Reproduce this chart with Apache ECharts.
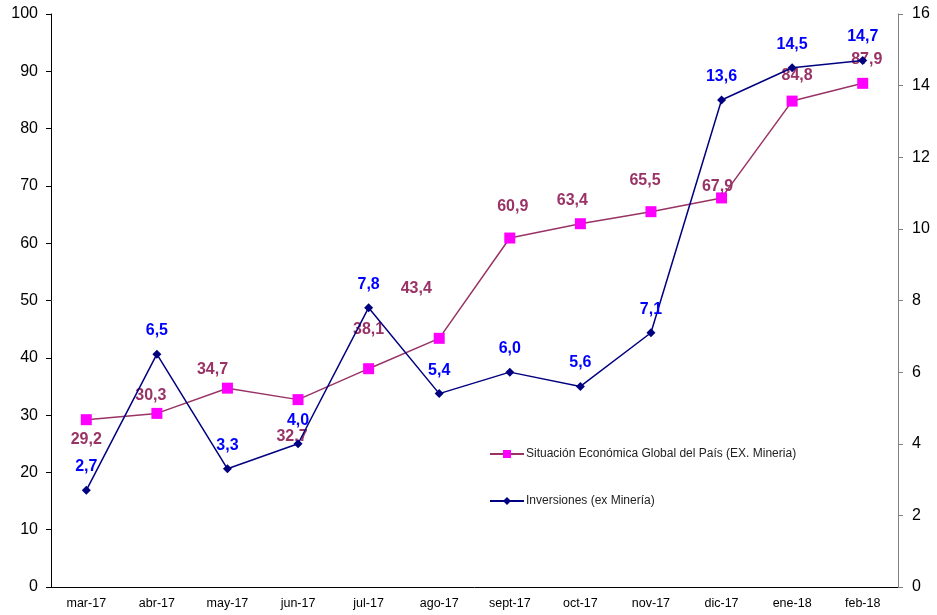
<!DOCTYPE html>
<html>
<head>
<meta charset="utf-8">
<script src="https://cdn.jsdelivr.net/npm/echarts@6/dist/echarts.min.js"></script>
<style>
  html, body { margin: 0; padding: 0; background: #fff; }
  #chart { width: 937px; height: 615px; }
</style>
</head>
<body>
<div id="chart"></div>
<script>
// meses
var meses = ['mar-17', 'abr-17', 'may-17', 'jun-17', 'jul-17', 'ago-17', 'sept-17', 'oct-17', 'nov-17', 'dic-17', 'ene-18', 'feb-18'];
// eje izquierdo
var situacionGlobal = [29.2, 30.3, 34.7, 32.7, 38.1, 43.4, 60.9, 63.4, 65.5, 67.9, 84.8, 87.9];
// eje derecho
var inversiones = [2.7, 6.5, 3.3, 4.0, 7.8, 5.4, 6.0, 5.6, 7.1, 13.6, 14.5, 14.7];

// donde cae cada etiqueta de la serie granate (como en el excel original)
var offsetsGlobal = [[0, 20], [-6, -18], [-15, -19], [-6, 37], [0, -39], [-23, -50],
                     [3, -31], [-8, -23], [-6, -31], [-4, -11], [5, -26], [4, -24]];

var fmt = function (v) { return v.toFixed(1).replace('.', ','); };

var datosGlobal = [];
for (var i = 0; i < situacionGlobal.length; i++) {
	datosGlobal.push({
		value: situacionGlobal[i],
		label: { offset: offsetsGlobal[i] }
	});
}

var chart = echarts.init(document.getElementById('chart'));
var option = {
	animation: false,
	textStyle: { fontFamily: 'Liberation Sans, Arial, sans-serif' },
	grid: { left: 51, right: 39, top: 14, bottom: 28 },
	legend: {
		orient: 'vertical',
		left: 484,
		top: 443,
		itemGap: 35,
		itemWidth: 34,
		itemHeight: 10,
		textStyle: { fontSize: 12, color: '#222', padding: [0, 0, 0, -3] },
		data: ['Situación Económica Global del País (EX. Mineria)', 'Inversiones (ex Minería)']
	},
	xAxis: {
		type: 'category',
		data: meses,
		boundaryGap: true,
		axisLine: { lineStyle: { color: '#000', width: 1 } },
		axisTick: { length: 4, lineStyle: { color: '#000' } },
		axisLabel: { color: '#000', fontSize: 12.5, margin: 10 }
	},
	yAxis: [
		{
			type: 'value',
			min: 0, max: 100, interval: 10,
			axisLine: { show: true, lineStyle: { color: '#000' } },
			axisTick: { show: true, length: 5, lineStyle: { color: '#000' } },
			axisLabel: { color: '#000', fontSize: 16, margin: 13 },
			splitLine: { show: false }
		},
		{
			type: 'value',
			min: 0, max: 16, interval: 2,
			position: 'right',
			axisLine: { show: true, lineStyle: { color: '#808080' } },
			axisTick: { show: true, length: 5, lineStyle: { color: '#808080' } },
			axisLabel: { color: '#000', fontSize: 16, margin: 14 },
			splitLine: { show: false }
		}
	],
	series: [
		{
			name: 'Situación Económica Global del País (EX. Mineria)',
			type: 'line',
			yAxisIndex: 0,
			data: datosGlobal,
			symbol: 'rect',
			symbolSize: 11,
			z: 2,
			lineStyle: { color: '#993366', width: 1.5 },
			itemStyle: { color: '#FF00FF', borderWidth: 0 },
			label: {
				show: true,
				position: 'inside',
				fontSize: 16,
				fontWeight: 'bold',
				color: '#993366',
				formatter: function (p) { return fmt(p.value); }
			}
		},
		{
			name: 'Inversiones (ex Minería)',
			type: 'line',
			yAxisIndex: 1,
			data: inversiones,
			symbol: 'diamond',
			symbolSize: 9,
			z: 3,
			lineStyle: { color: '#000080', width: 1.5 },
			itemStyle: { color: '#000080', borderWidth: 0 },
			label: {
				show: true,
				position: 'top',
				distance: 11,
				fontSize: 16,
				fontWeight: 'bold',
				color: '#0000FF',
				formatter: function (p) { return fmt(p.value); }
			}
		}
	]
};
chart.setOption(option);
</script>
</body>
</html>
